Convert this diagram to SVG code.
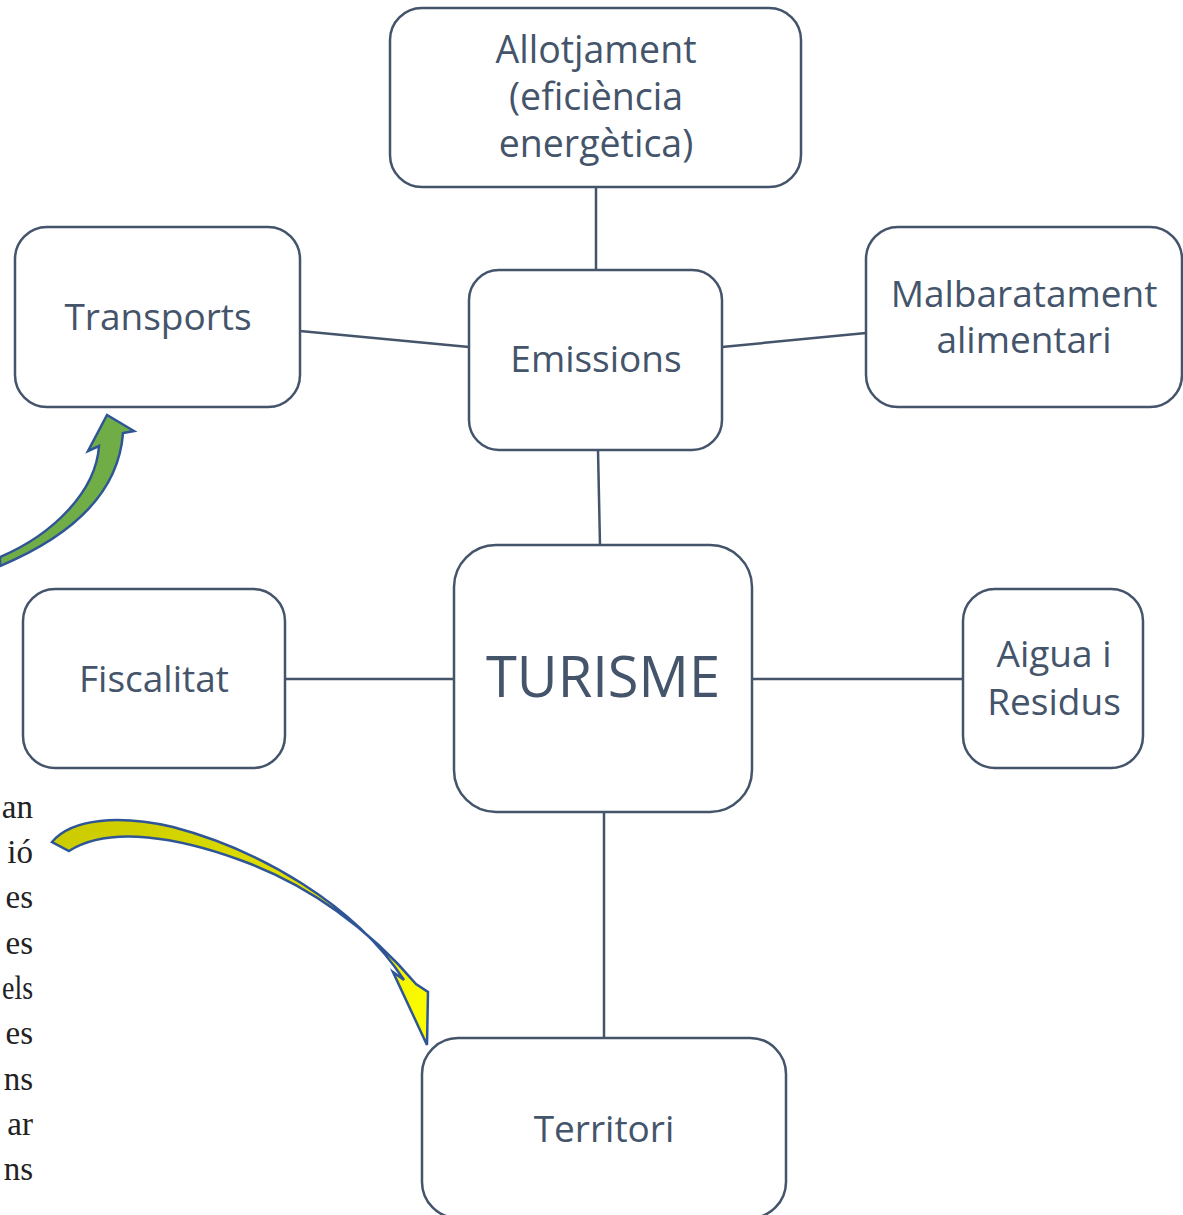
<svg xmlns="http://www.w3.org/2000/svg" width="1183" height="1215" viewBox="0 0 1183 1215">
<style>
.box{fill:#ffffff;stroke:#44546a;stroke-width:2.5}
.lbl{font-family:"Open Sans","Noto Sans",sans-serif;fill:#44546a;text-anchor:middle}
.conn line{stroke:#44546a;stroke-width:2.5}
.frag{font-family:"Liberation Serif",serif;font-size:33px;fill:#222;text-anchor:end}
.arr{stroke:#2f5597;stroke-width:2.5;stroke-linejoin:miter}
</style>
<defs>
<linearGradient id="yg" x1="0" y1="0" x2="1" y2="1">
<stop offset="0" stop-color="#c9c900"/>
<stop offset="0.55" stop-color="#e6e600"/>
<stop offset="1" stop-color="#ffff00"/>
</linearGradient>
</defs>
<rect width="1183" height="1215" fill="#ffffff"/>

<g id="fragments">
<text class="frag" x="33" y="818">an</text>
<text class="frag" x="33" y="863">ió</text>
<text class="frag" x="33" y="908">es</text>
<text class="frag" x="33" y="954">es</text>
<text class="frag" x="33" y="999" textLength="31" lengthAdjust="spacingAndGlyphs">els</text>
<text class="frag" x="33" y="1044">es</text>
<text class="frag" x="33" y="1090">ns</text>
<text class="frag" x="33" y="1135">ar</text>
<text class="frag" x="33" y="1180">ns</text>
</g>

<g id="connectors" class="conn">
<line x1="596" y1="187" x2="596" y2="270"/>
<line x1="300" y1="331" x2="469" y2="347"/>
<line x1="722" y1="347" x2="866" y2="333"/>
<line x1="598" y1="450" x2="600" y2="545"/>
<line x1="285" y1="679" x2="454" y2="679"/>
<line x1="752" y1="679" x2="963" y2="679"/>
<line x1="604" y1="812" x2="604" y2="1038"/>
</g>

<g id="allotjament">
<rect class="box" x="390" y="8" width="411" height="179" rx="32"/>
<text class="lbl" font-size="37.5"><tspan x="596" y="63">Allotjament</tspan><tspan x="596" y="110">(eficiència</tspan><tspan x="596" y="157">energètica)</tspan></text>
</g>
<g id="transports">
<rect class="box" x="15" y="227" width="285" height="180" rx="32"/>
<text class="lbl" font-size="37" x="158" y="330">Transports</text>
</g>
<g id="emissions">
<rect class="box" x="469" y="270" width="253" height="180" rx="30"/>
<text class="lbl" font-size="37" x="596" y="372">Emissions</text>
</g>
<g id="malbaratament">
<rect class="box" x="866" y="227" width="316" height="180" rx="32"/>
<text class="lbl" font-size="37"><tspan x="1024" y="307">Malbaratament</tspan><tspan x="1024" y="353">alimentari</tspan></text>
</g>
<g id="fiscalitat">
<rect class="box" x="23" y="589" width="262" height="179" rx="32"/>
<text class="lbl" font-size="37" x="154" y="692">Fiscalitat</text>
</g>
<g id="turisme">
<rect class="box" x="454" y="545" width="298" height="267" rx="42"/>
<text class="lbl" font-size="56" x="603" y="697">TURISME</text>
</g>
<g id="aigua">
<rect class="box" x="963" y="589" width="180" height="179" rx="32"/>
<text class="lbl" font-size="37"><tspan x="1054" y="667">Aigua i</tspan><tspan x="1054" y="715">Residus</tspan></text>
</g>
<g id="territori">
<rect class="box" x="422" y="1038" width="364" height="180" rx="36"/>
<text class="lbl" font-size="37" x="604" y="1142">Territori</text>
</g>

<g id="arrows">
<path class="arr" fill="#70ad47" d="M 0,566 C 62,540 118,500 123,433 L 134,431 L 107,415 L 88,451 L 99,446 C 96,492 52,535 0,557 Z"/>
<path class="arr" fill="url(#yg)" stroke-width="2" d="M 52,842 C 72,818 120,815 173,827 C 260,850 355,905 404,980 L 393,972 L 427,1045 L 428,992 L 416,984 C 370,930 310,885 240,860 C 180,838 110,825 69,851 Z"/>
</g>
</svg>
